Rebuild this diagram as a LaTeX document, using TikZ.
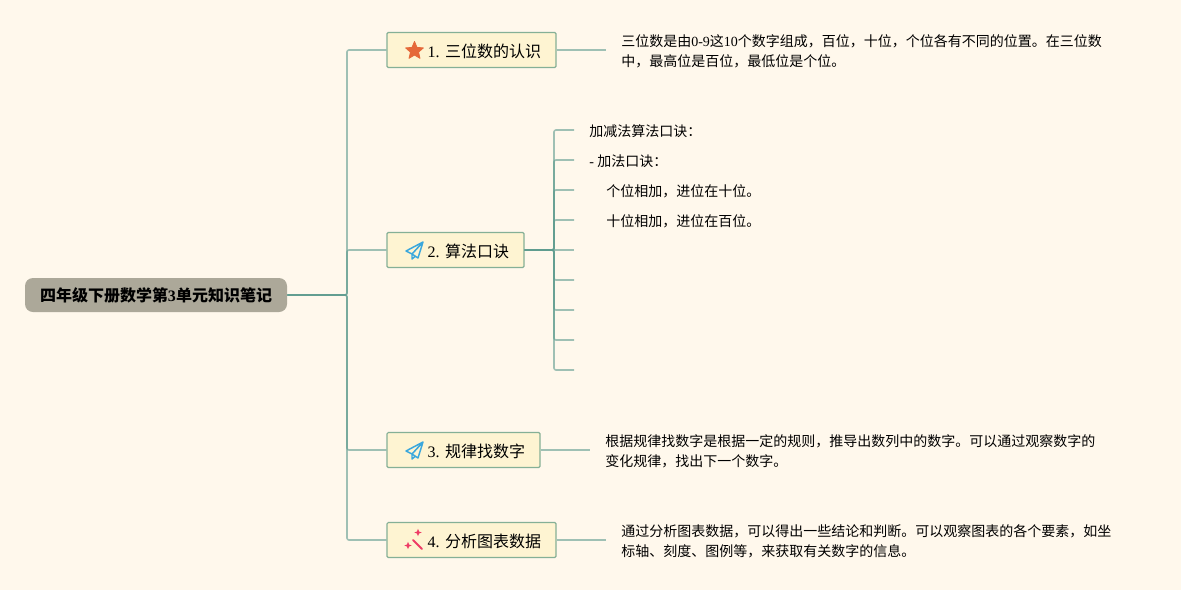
\documentclass[tikz,border=0pt]{standalone}
\usepackage{fontspec}
\setmainfont{Noto Sans CJK SC}
\newfontfamily\lat{Liberation Serif}
\usetikzlibrary{shapes.geometric}
\definecolor{paper}{HTML}{FFF8EC}
\definecolor{rootfill}{HTML}{ACA899}
\definecolor{topicfill}{HTML}{FEF4D2}
\definecolor{topicline}{HTML}{85B096}
\definecolor{linkcol}{HTML}{5F9C8F}
\definecolor{starcol}{HTML}{E5693A}
\definecolor{planecol}{HTML}{3AA7DC}
\definecolor{wandcol}{HTML}{EE3C66}
\tikzset{
  rootnode/.style={fill=rootfill,rounded corners=6pt,minimum width=196.5pt,minimum height=25.5pt,inner sep=0pt,text height=10pt,text depth=0pt,font=\fontsize{12}{15}\selectfont\bfseries},
  topic/.style={draw=topicline,line width=0.9pt,fill=topicfill,rounded corners=1pt,minimum height=26.25pt,inner xsep=11.25pt,inner ysep=0pt,text height=10.5pt,text depth=0pt,align=right,font=\fontsize{12}{15}\selectfont},
  note/.style={anchor=west,inner xsep=11.25pt,inner ysep=0pt,align=left,font=\fontsize{10.5}{15}\selectfont},
  link/.style={draw=linkcol,opacity=.6,line width=1.2pt,rounded corners=1.5pt},
  spark/.style={star,star points=4,star point ratio=2.5,fill=wandcol,inner sep=0pt,minimum size=5.5pt},
}
\begin{document}
\begin{tikzpicture}[x=0.75pt,y=-0.75pt]
  \useasboundingbox[fill=paper] (0,0) rectangle (1181,590);
  % nodes
  \node (root) at (156,295) [rootnode] {四年级下册数学第{\lat\bfseries 3}单元知识笔记};
  \node (topicA) at (471.5,50)  [topic,text width=104.25pt] {{\lat 1.\ }三位数的认识};
  \node (topicB) at (455.5,250) [topic,text width=80.25pt] {{\lat 2.\ }算法口诀};
  \node (topicC) at (463.5,450) [topic,text width=92.25pt] {{\lat 3.\ }规律找数字};
  \node (topicD) at (471.5,540) [topic,text width=104.25pt] {{\lat 4.\ }分析图表数据};
  % notes
  \node (noteA) at (606,51.5) [note] {三位数是由{\lat 0-9}这{\lat 10}个数字组成，百位，十位，个位各有不同的位置。在三位数\\中，最高位是百位，最低位是个位。};
  \node (noteC) at (590,451.5) [note] {根据规律找数字是根据一定的规则，推导出数列中的数字。可以通过观察数字的\\变化规律，找出下一个数字。};
  \node (noteD) at (606,541.5) [note] {通过分析图表数据，可以得出一些结论和判断。可以观察图表的各个要素，如坐\\标轴、刻度、图例等，来获取有关数字的信息。};
  \node (lineA) at (574,131.5) [note] {加减法算法口诀：};
  \node (lineB) at (574,161.5) [note] {{\lat - }加法口诀：};
  \node (lineC) at (574,191.5) [note] {\hspace*{12.75pt}个位相加，进位在十位。};
  \node (lineD) at (574,221.5) [note] {\hspace*{12.75pt}十位相加，进位在百位。};
  \coordinate (lineE) at (574,250);
  \coordinate (lineF) at (574,280);
  \coordinate (lineG) at (574,310);
  \coordinate (lineH) at (574,340);
  \coordinate (lineI) at (574,370);
  % root links
  \draw[link] (root.east) -- (347,295) |- (topicA.west);
  \draw[link] (root.east) -- (347,295) |- (topicB.west);
  \draw[link] (root.east) -- (347,295) |- (topicC.west);
  \draw[link] (root.east) -- (347,295) |- (topicD.west);
  % note links
  \draw[link] (topicA.east) -- (606,50);
  \draw[link] (topicC.east) -- (590,450);
  \draw[link] (topicD.east) -- (606,540);
  % links of the second topic
  \draw[link] (topicB.east) -- (554,250) |- (574,130);
  \draw[link] (topicB.east) -- (554,250) |- (574,160);
  \draw[link] (topicB.east) -- (554,250) |- (574,190);
  \draw[link] (topicB.east) -- (554,250) |- (574,220);
  \draw[link] (topicB.east) -- (lineE);
  \draw[link] (topicB.east) -- (554,250) |- (lineF);
  \draw[link] (topicB.east) -- (554,250) |- (lineG);
  \draw[link] (topicB.east) -- (554,250) |- (lineH);
  \draw[link] (topicB.east) -- (554,250) |- (lineI);
  % icons
  \node (starA) at (414.5,50.8) [star,star points=5,star point ratio=2.2,fill=starcol,draw=starcol,line width=0.6pt,line join=round,inner sep=0pt,minimum size=14pt] {};
  \draw[planecol,line width=1.1pt,line join=round] (423,242) -- (406,251) -- (412,254) -- (423,242) -- (418,258) -- (412,254) -- (412,259) -- (415,256.5);
  \draw[planecol,line width=1.1pt,line join=round] (423,442) -- (406,451) -- (412,454) -- (423,442) -- (418,458) -- (412,454) -- (412,459) -- (415,456.5);
  \draw[wandcol,line width=1.5pt,line cap=round] (413,540) -- (422,549);
  \node (sparkA) at (408,545.5) [spark] {};
  \node (sparkB) at (418,532.5) [spark] {};
\end{tikzpicture}
\end{document}
